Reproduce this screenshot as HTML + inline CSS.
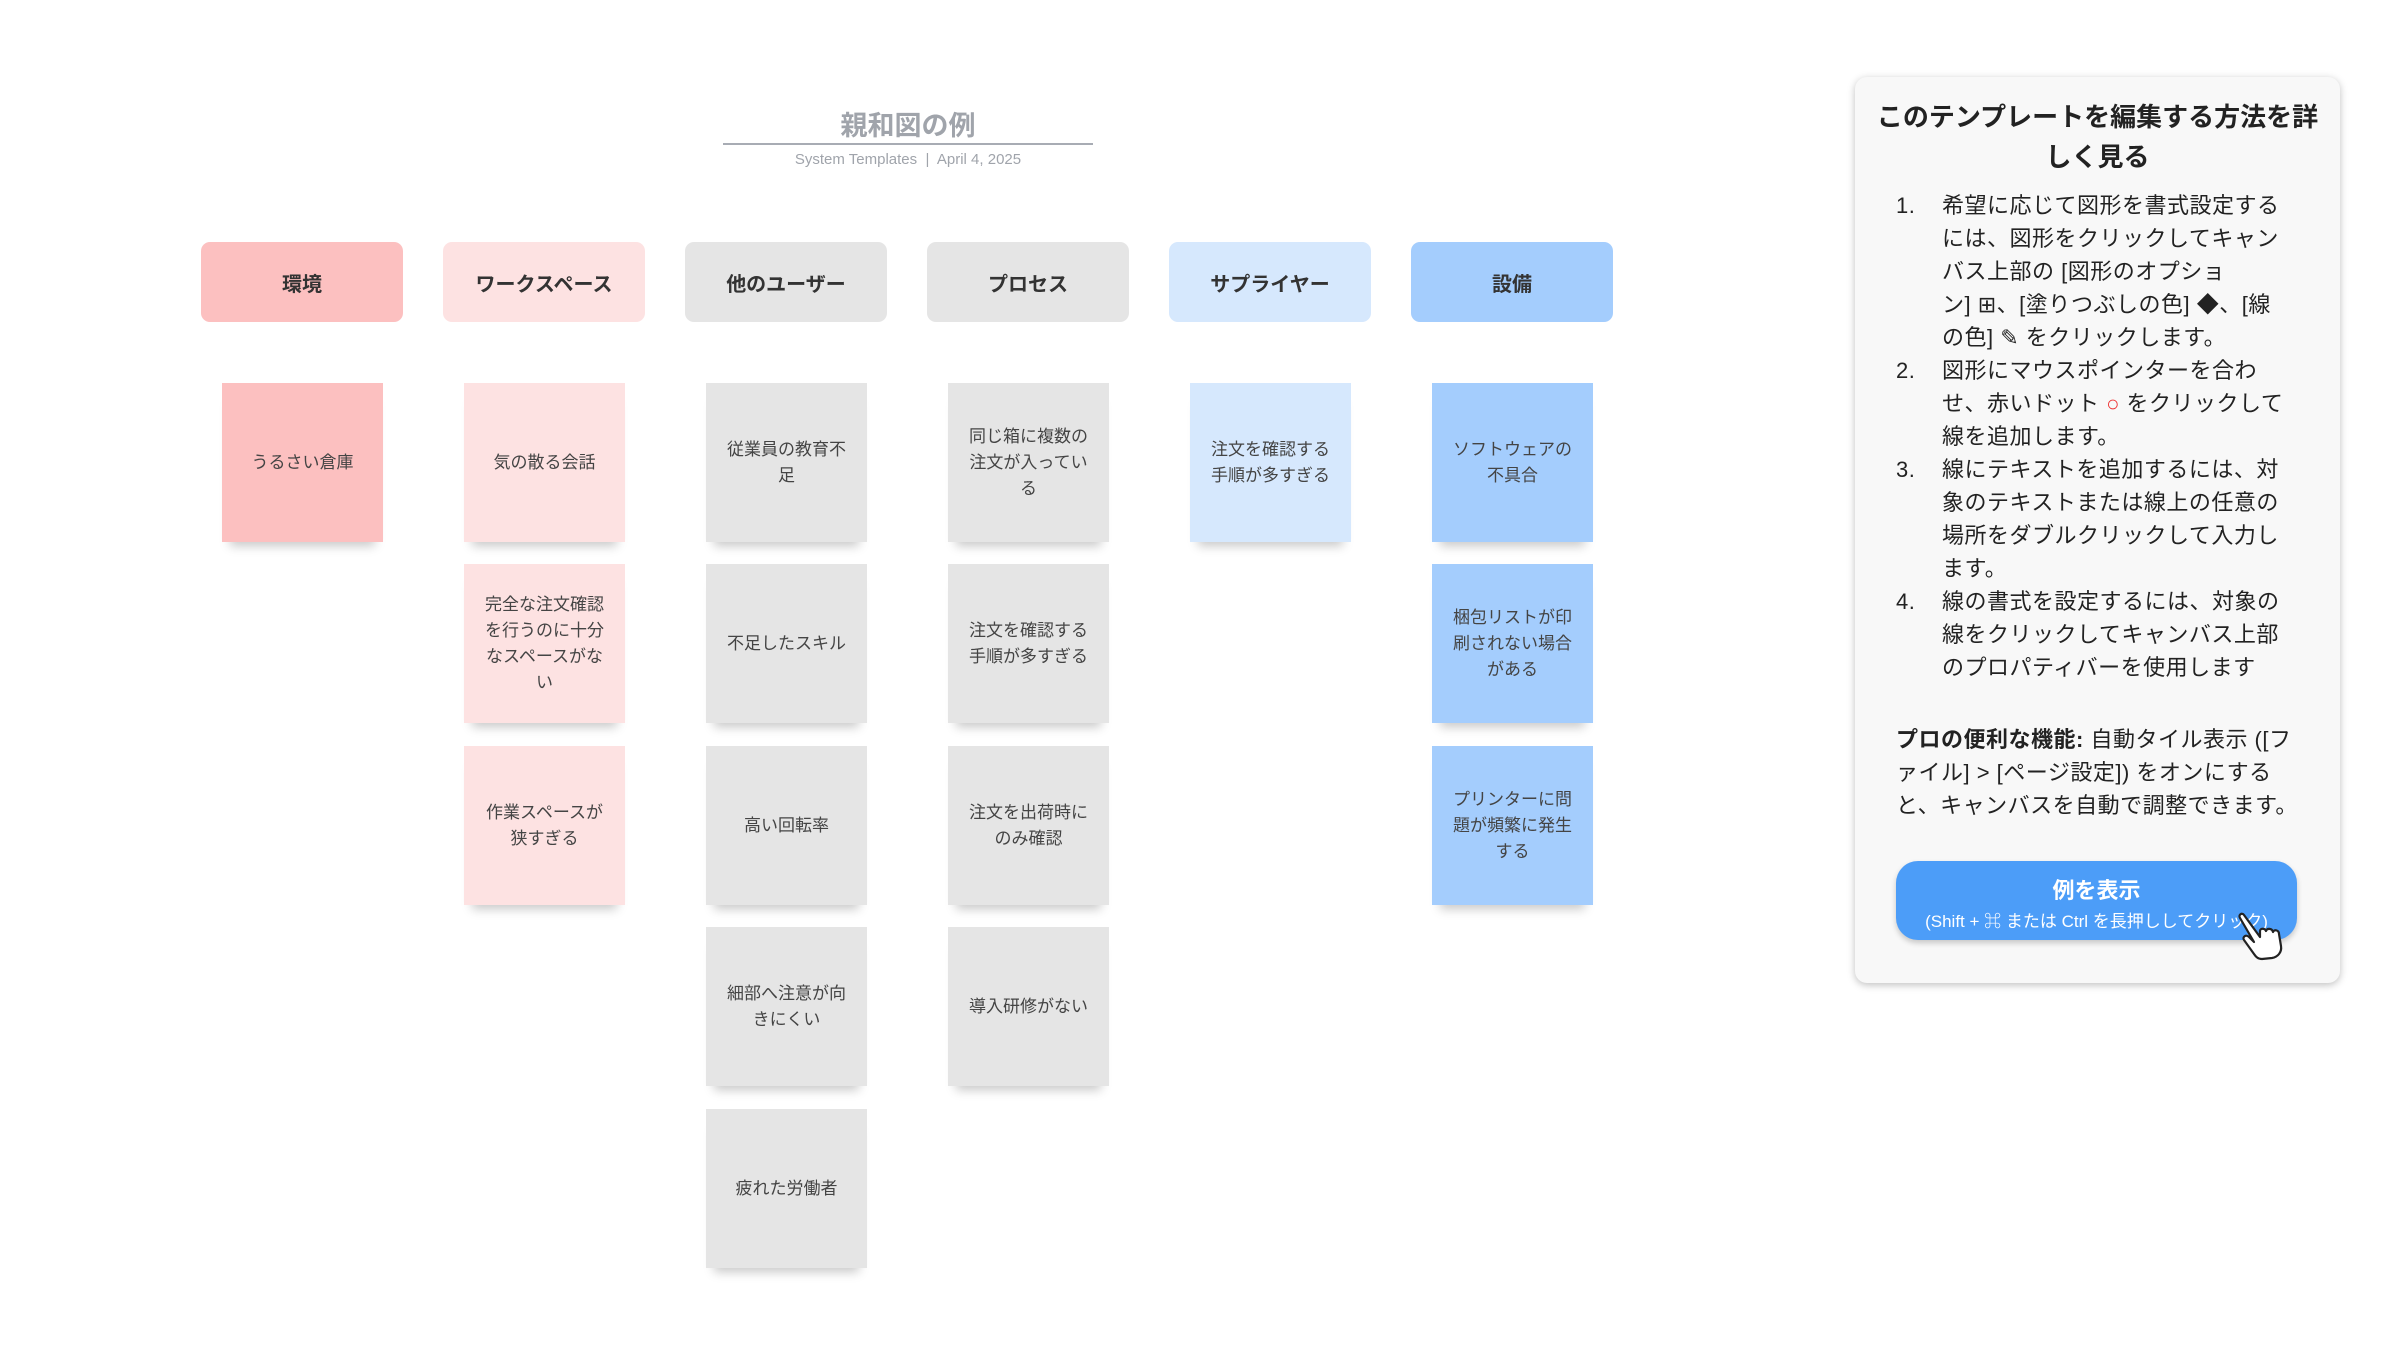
<!DOCTYPE html>
<html><head><meta charset="utf-8">
<style>
*{margin:0;padding:0;box-sizing:border-box}
body{width:2401px;height:1351px;background:#fff;position:relative;overflow:hidden;font-family:"Liberation Sans","Noto Sans CJK JP",sans-serif;color:#333}
.h{position:absolute;top:242px;width:202px;height:80px;border-radius:9px;display:flex;align-items:center;justify-content:center;font-weight:bold;font-size:20px;color:#333}
.n{position:absolute;width:161px;height:159px;display:flex;align-items:center;justify-content:center;text-align:center;font-size:17px;line-height:26px;padding:0 14px;color:#444;box-shadow:0 12px 10px -8px rgba(0,0,0,0.22)}
.r{background:#fcc0c0}.p{background:#fde2e2}.g{background:#e5e5e5}.lb{background:#d6e8fd}.b{background:#a4cdfd}
#title{position:absolute;left:723px;width:370px;top:104px;text-align:center;font-size:27px;font-weight:bold;color:#a0a4ab}
#line{position:absolute;left:723px;width:370px;top:143px;height:2px;background:#a8acb4}
#sub{position:absolute;left:723px;width:370px;top:151px;text-align:center;font-size:15px;color:#a0a4ab}
#panel{position:absolute;left:1855px;top:77px;width:485px;height:906px;background:#f8f8f8;border-radius:12px;box-shadow:0 2px 8px rgba(0,0,0,0.25)}
#pt{position:absolute;left:0;right:0;top:20px;text-align:center;font-size:26px;font-weight:bold;line-height:40px;color:#222;white-space:nowrap}
.ln{position:absolute;font-size:22px;line-height:33px;color:#222;white-space:nowrap;letter-spacing:0.5px}
#btn{position:absolute;left:41px;top:784px;width:401px;height:79px;background:#4c9df8;border-radius:22px;color:#fff;text-align:center;box-shadow:0 3px 6px rgba(0,0,0,0.2)}
#btn b{display:block;font-size:22px;margin-top:12px}
#btn i{display:block;font-style:normal;font-size:17px;margin-top:2px}
</style></head><body>
<div id="title">親和図の例</div>
<div id="line"></div>
<div id="sub">System Templates &nbsp;|&nbsp; April 4, 2025</div>

<div class="h r" style="left:201px">環境</div>
<div class="h p" style="left:443px">ワークスペース</div>
<div class="h g" style="left:685px">他のユーザー</div>
<div class="h g" style="left:927px">プロセス</div>
<div class="h lb" style="left:1169px">サプライヤー</div>
<div class="h b" style="left:1411px">設備</div>

<div class="n r" style="left:222px;top:383px">うるさい倉庫</div>

<div class="n p" style="left:464px;top:383px">気の散る会話</div>
<div class="n p" style="left:464px;top:564px">完全な注文確認を行うのに十分なスペースがない</div>
<div class="n p" style="left:464px;top:746px">作業スペースが狭すぎる</div>

<div class="n g" style="left:706px;top:383px">従業員の教育不足</div>
<div class="n g" style="left:706px;top:564px">不足したスキル</div>
<div class="n g" style="left:706px;top:746px">高い回転率</div>
<div class="n g" style="left:706px;top:927px">細部へ注意が向きにくい</div>
<div class="n g" style="left:706px;top:1109px">疲れた労働者</div>

<div class="n g" style="left:948px;top:383px">同じ箱に複数の注文が入っている</div>
<div class="n g" style="left:948px;top:564px">注文を確認する手順が多すぎる</div>
<div class="n g" style="left:948px;top:746px">注文を出荷時にのみ確認</div>
<div class="n g" style="left:948px;top:927px">導入研修がない</div>

<div class="n lb" style="left:1190px;top:383px">注文を確認する手順が多すぎる</div>

<div class="n b" style="left:1432px;top:383px">ソフトウェアの不具合</div>
<div class="n b" style="left:1432px;top:564px">梱包リストが印刷されない場合がある</div>
<div class="n b" style="left:1432px;top:746px">プリンターに問題が頻繁に発生する</div>

<div id="panel">
<div id="pt">このテンプレートを編集する方法を詳<br>しく見る</div>
<div class="ln" style="left:41px;top:112px">1.<br><br><br><br><br>2.<br><br><br>3.<br><br><br><br>4.</div>
<div class="ln" style="left:87px;top:112px">希望に応じて図形を書式設定する<br>には、図形をクリックしてキャン<br>バス上部の [図形のオプショ<br>ン] ⊞、[塗りつぶしの色] ◆、[線<br>の色] ✎ をクリックします。<br>図形にマウスポインターを合わ<br>せ、赤いドット <span style="color:#e33">○</span> をクリックして<br>線を追加します。<br>線にテキストを追加するには、対<br>象のテキストまたは線上の任意の<br>場所をダブルクリックして入力し<br>ます。<br>線の書式を設定するには、対象の<br>線をクリックしてキャンバス上部<br>のプロパティバーを使用します</div>
<div class="ln" style="left:41px;top:646px"><b>プロの便利な機能:</b> 自動タイル表示 ([フ<br>ァイル] &gt; [ページ設定]) をオンにする<br>と、キャンバスを自動で調整できます。</div>
<div id="btn"><b>例を表示</b><i>(Shift + ⌘ または Ctrl を長押ししてクリック)</i></div>
<svg style="position:absolute;left:375px;top:830px" width="56" height="56" viewBox="0 0 56 56"><path d="M14 8 l16 22 v-6 c0-3 5-3 6 0 c1-3 6-3 7 1 c1-3 6-2 6 2 l2 12 c1 6-3 11-9 12 l-10 1 c-4 0-6-2-8-5 l-10-14 c-2-3 2-6 5-3 l5 5 l-14-24 c-2-3 2-6 4-3z" fill="#fff" stroke="#222" stroke-width="2.2" stroke-linejoin="round"/></svg>
</div>
</body></html>
